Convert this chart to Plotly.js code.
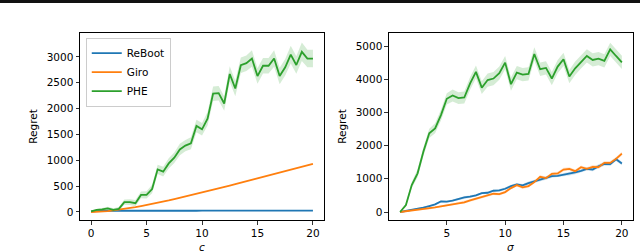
<!DOCTYPE html>
<html>
<head>
<meta charset="utf-8">
<script src="https://cdn.plot.ly/plotly-3.0.1.min.js"></script>
<style>html,body{margin:0;padding:0;background:#fff;}#chart{width:640px;height:252px;}</style>
</head>
<body>
<div id="chart"></div>
<script>
// ---- Left panel: regret vs c ----
const cVals = [0,0.5,1,1.5,2,2.5,3,3.5,4,4.5,5,5.5,6,6.5,7,7.5,8,8.5,9,9.5,10,10.5,11,11.5,12,12.5,13,13.5,14,14.5,15,15.5,16,16.5,17,17.5,18,18.5,19,19.5,20];
const rebootC = [10,20,22,25,24,25,26,25,24,25,26,25,24,25,25,24,25,26,25,24,25,25,26,25,24,25,26,27,25,24,25,24,25,25,24,25,26,25,24,25,25];
const giroC = [0,3,8,17,30,44,60,77,95,115,135,157,180,202,225,250,275,300,325,352,380,405,430,457,485,512,540,567,595,622,650,677,705,732,760,787,815,842,870,900,930];
const pheC = [10,40,50,70,40,60,190,190,170,330,330,445,825,780,940,1050,1210,1285,1330,1665,1600,1805,2290,2300,2100,2670,2390,2840,2880,2970,2630,2830,2830,2970,2630,2800,3045,2845,3100,2970,2970];
const pheCStd = [10,20,25,30,30,35,50,55,60,65,70,80,90,95,100,100,110,110,115,120,120,130,140,140,140,150,150,150,150,160,150,150,150,160,160,160,170,170,180,170,170];

// ---- Right panel: regret vs sigma ----
const sVals = [1,1.5,2,2.5,3,3.5,4,4.5,5,5.5,6,6.5,7,7.5,8,8.5,9,9.5,10,10.5,11,11.5,12,12.5,13,13.5,14,14.5,15,15.5,16,16.5,17,17.5,18,18.5,19,19.5,20];
const rebootS = [0,30,60,100,130,180,230,320,310,340,390,440,460,500,570,580,640,650,700,780,830,800,870,920,970,1020,1080,1090,1120,1150,1190,1240,1300,1280,1380,1450,1440,1590,1460];
const rebootSStd = [0,10,15,20,20,25,25,30,30,30,30,35,35,35,35,40,40,40,40,40,45,45,45,45,45,50,50,50,50,50,50,50,50,55,55,55,55,55,55];
const giroS = [0,20,40,60,80,100,140,170,200,230,270,290,350,400,450,500,550,540,600,720,810,740,780,900,1060,1020,1150,1160,1280,1300,1230,1350,1300,1360,1350,1480,1480,1600,1760];
const giroSStd = [0,10,15,20,20,25,25,30,30,30,30,35,35,35,35,40,40,40,40,40,45,45,45,45,45,50,50,50,50,50,50,50,50,55,55,55,55,55,55];
const pheS = [0,210,810,1165,1820,2370,2520,2920,3410,3510,3430,3450,3875,4220,3745,3975,4020,4180,4500,3850,4200,4140,4160,4760,4300,4340,4020,4380,4600,4080,4330,4520,4700,4580,4620,4550,4900,4700,4510];
const pheSStd = [0,50,90,120,130,140,150,160,170,180,180,180,190,190,190,200,200,200,200,200,200,200,200,200,200,200,200,200,200,200,200,200,200,200,200,200,200,200,200];

const seriesNames = ['ReBoot','Giro','PHE'];
const xTitles = ['<i>c</i>', '<i>σ</i>'];
const colors = ['#1f77b4','#ff7f0e','#2ca02c'];
const fills = ['rgba(31,119,180,0.2)','rgba(255,127,14,0.2)','rgba(44,160,44,0.2)'];

function band(x, y, s, fillc, xa, ya) {
  const up = y.map((v,i)=>v+s[i]);
  const lo = y.map((v,i)=>v-s[i]);
  return {x: x.concat(x.slice().reverse()), y: up.concat(lo.slice().reverse()),
    type:'scatter', mode:'lines', fill:'toself', fillcolor: fillc,
    line:{width:0}, hoverinfo:'skip', showlegend:false, xaxis:xa, yaxis:ya};
}
function line(x, y, k, xa, ya, legend) {
  return {x:x, y:y, type:'scatter', mode:'lines', name:seriesNames[k],
    line:{color:colors[k], width:1.8}, showlegend:legend, xaxis:xa, yaxis:ya};
}

const traces = [
  band(cVals, pheC, pheCStd, fills[2], 'x', 'y'),
  line(cVals, rebootC, 0, 'x', 'y', true),
  line(cVals, giroC, 1, 'x', 'y', true),
  line(cVals, pheC, 2, 'x', 'y', true),
  band(sVals, rebootS, rebootSStd, fills[0], 'x2', 'y2'),
  band(sVals, giroS, giroSStd, fills[1], 'x2', 'y2'),
  band(sVals, pheS, pheSStd, fills[2], 'x2', 'y2'),
  line(sVals, rebootS, 0, 'x2', 'y2', false),
  line(sVals, giroS, 1, 'x2', 'y2', false),
  line(sVals, pheS, 2, 'x2', 'y2', false)
];

const font = {family:'DejaVu Sans, sans-serif', size:10.5, color:'#000'};
const legFont = {family:'DejaVu Sans, sans-serif', size:10.5, color:'#000'};
const axBase = {showline:true, mirror:true, linecolor:'#000', linewidth:1, showgrid:false, zeroline:false,
  ticks:'outside', ticklen:3.5, tickwidth:0.8, tickcolor:'#000', tickfont:font};

const layout = {
  width:640, height:252,
  margin:{l:0, r:0, t:33, b:32},
  paper_bgcolor:'#fff', plot_bgcolor:'#fff',
  font: font,
  showlegend:true,
  legend:{x:0.134, y:0.975, xanchor:'left', yanchor:'top', bgcolor:'rgba(255,255,255,0.8)',
    bordercolor:'#ccc', borderwidth:1, font:legFont, tracegroupgap:0, itemwidth:30},
  xaxis: Object.assign({}, axBase, {domain:[0.125, 0.5063], range:[-1,21], tickvals:[0,5,10,15,20]}),
  yaxis: Object.assign({}, axBase, {domain:[0,1], range:[-155,3464], tickvals:[0,500,1000,1500,2000,2500,3000],
    title:{text:'Regret', font:font, standoff:6}}),
  xaxis2: Object.assign({}, axBase, {domain:[0.6078, 0.989], range:[0.05,20.95], tickvals:[5,10,15,20], anchor:'y2'}),
  yaxis2: Object.assign({}, axBase, {domain:[0,1], range:[-241,5392], tickvals:[0,1000,2000,3000,4000,5000], anchor:'x2',
    title:{text:'Regret', font:font, standoff:6}}),
  annotations:[
    {text:xTitles[0], xref:'x domain', yref:'paper', x:0.5, y:-0.142, xanchor:'center', yanchor:'middle', showarrow:false, font:font},
    {text:xTitles[1], xref:'x2 domain', yref:'paper', x:0.5, y:-0.142, xanchor:'center', yanchor:'middle', showarrow:false, font:font}
  ],
  shapes:[{type:'rect', xref:'paper', yref:'paper', x0:0, x1:1, y0:1.160, y1:1.18, fillcolor:'#111', line:{width:0}}]
};

Plotly.newPlot('chart', traces, layout, {staticPlot:true, displayModeBar:false});
</script>
</body>
</html>
